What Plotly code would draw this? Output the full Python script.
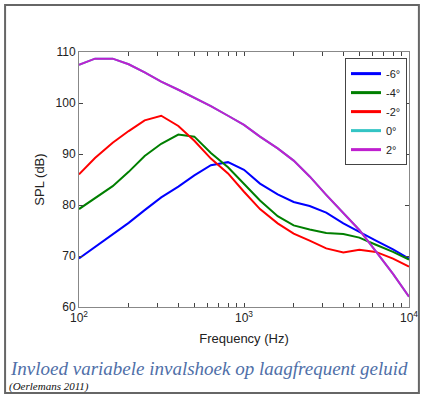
import plotly.graph_objects as go

freq = [100, 125, 160, 200, 250, 315, 400, 500, 630, 800, 1000, 1250, 1600,
        2000, 2500, 3150, 4000, 5000, 6300, 8000, 10000]

spl_m6 = [69.5, 71.8, 74.2, 76.5, 79.0, 81.5, 83.6, 85.8, 87.8, 88.4, 86.9, 84.2, 82.1,
          80.6, 79.8, 78.5, 76.4, 74.7, 73.0, 71.3, 69.5]
spl_m4 = [79.2, 81.3, 83.7, 86.5, 89.6, 92.0, 93.8, 93.4, 90.2, 87.4, 84.2, 80.9, 77.8,
          76.0, 75.2, 74.5, 74.3, 73.6, 72.2, 70.8, 69.3]
spl_m2 = [86.0, 89.2, 92.2, 94.5, 96.6, 97.5, 95.5, 92.6, 89.1, 86.2, 82.6, 79.2, 76.4,
          74.4, 73.0, 71.5, 70.7, 71.2, 70.8, 69.5, 67.9]
spl_0 = [107.5, 108.7, 108.7, 107.6, 106.0, 104.2, 102.6, 101.1, 99.4, 97.5, 95.7, 93.4, 91.1,
         88.7, 85.6, 82.0, 78.5, 75.1, 70.9, 66.5, 62.0]
spl_2 = list(spl_0)

names = ["-6°", "-4°", "-2°", "0°", "2°"]
series = [spl_m6, spl_m4, spl_m2, spl_0, spl_2]
colors = ["#0000FF", "#007F00", "#FF0000", "#33C4C4", "#BF1FCF"]

x_major = [100, 1000, 10000]
x_major_text = ["10<sup>2</sup>", "10<sup>3</sup>", "10<sup>4</sup>"]
y_ticks = [60, 70, 80, 90, 100, 110]

fig = go.Figure()
for n, s, c in zip(names, series, colors):
    fig.add_trace(go.Scatter(x=freq, y=s, mode="lines", name=n, showlegend=False,
                             line=dict(color=c, width=2)))
# legend entries (thicker sample lines, as in the reference)
for n, c in zip(names, colors):
    fig.add_trace(go.Scatter(x=[None], y=[None], mode="lines", name=n,
                             line=dict(color=c, width=3)))

tickvals = []
ticktext = []
for dec in [100, 1000]:
    for k in range(1, 10):
        tickvals.append(dec * k)
        ticktext.append(x_major_text[x_major.index(dec)] if k == 1 else "")
tickvals.append(10000)
ticktext.append(x_major_text[2])

sans = "Liberation Sans, Arial, sans-serif"
axis_font = dict(family=sans, size=12, color="#222")

fig.update_layout(
    width=422, height=397,
    margin=dict(l=79, r=13, t=52, b=90),
    paper_bgcolor="white", plot_bgcolor="white",
    showlegend=True,
    legend=dict(x=0.806, y=0.976, xanchor="left", yanchor="top",
                bordercolor="#444", borderwidth=1, bgcolor="white",
                font=dict(family=sans, size=11, color="#222"),
                itemwidth=30, tracegroupgap=0),
    xaxis=dict(type="log", range=[2, 4], tickvals=tickvals, ticktext=ticktext,
               ticks="inside", ticklen=4, tickcolor="#444", mirror="ticks",
               showline=True, linecolor="#888", linewidth=1, showgrid=False, zeroline=False,
               tickfont=axis_font, automargin=False,
               title=dict(text="Frequency (Hz)", font=dict(family=sans, size=13, color="#222"), standoff=9)),
    yaxis=dict(range=[60, 110], tickvals=y_ticks,
               ticks="inside", ticklen=4, tickcolor="#444", mirror="ticks",
               showline=True, linecolor="#888", linewidth=1, showgrid=False, zeroline=False,
               tickfont=axis_font, automargin=False,
               title=dict(text="SPL (dB)", font=dict(family=sans, size=13, color="#222"), standoff=8)),
    shapes=[dict(type="rect", xref="paper", yref="paper",
                 x0=-0.224, x1=1.03, y0=-0.337, y1=1.184,
                 line=dict(color="#666", width=2), fillcolor="rgba(0,0,0,0)", layer="below")],
    annotations=[
        dict(text="<i>Invloed variabele invalshoek op laagfrequent geluid</i>",
             xref="paper", yref="paper", x=-0.215, y=-0.24, xanchor="left", yanchor="middle",
             showarrow=False,
             font=dict(family="Liberation Serif, Times New Roman, serif", size=19, color="#4F6FA8")),
        dict(text="<i>(Oerlemans 2011)</i>",
             xref="paper", yref="paper", x=-0.218, y=-0.312, xanchor="left", yanchor="middle",
             showarrow=False,
             font=dict(family="Liberation Serif, Times New Roman, serif", size=11, color="#111")),
    ],
)

fig.write_html("out.html")
